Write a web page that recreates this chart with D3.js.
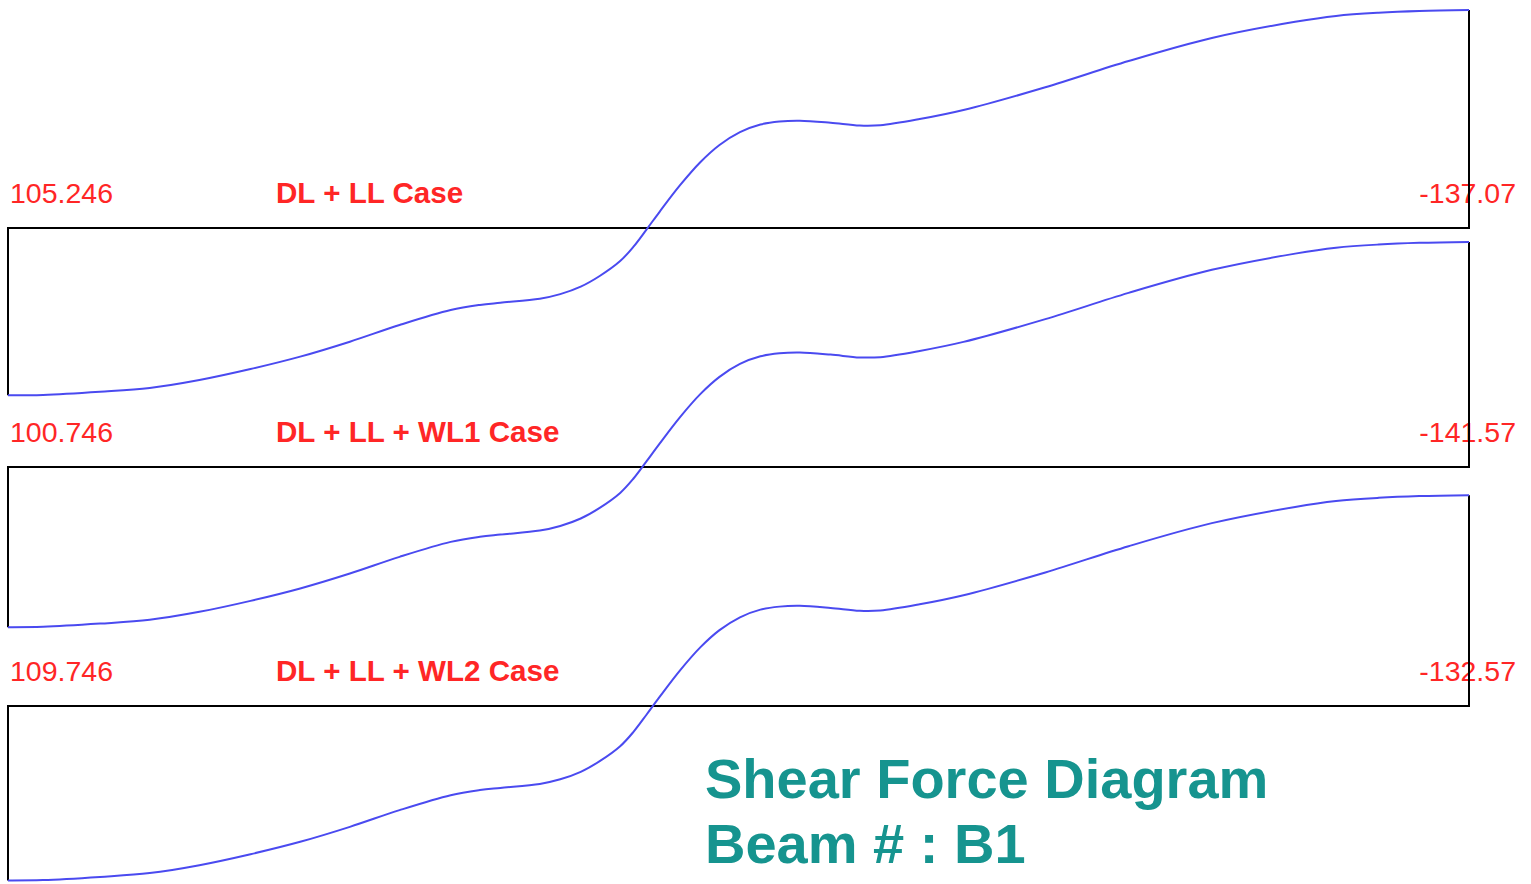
<!DOCTYPE html>
<meta charset="utf-8">
<style>
body { margin: 0; background: #fff; }
text { font-family: "Liberation Sans", Arial, sans-serif; }
.frame { fill: none; stroke: #000; stroke-width: 2px; }
.shear { fill: none; stroke: #4a4af0; stroke-width: 2px; }
.val { fill: #ff2626; font-size: 28.5px; }
.case { fill: #ff2626; font-size: 29.6px; font-weight: bold; }
.title { fill: #16948f; font-size: 56px; font-weight: bold; }
</style>
<body>
<script src="https://d3js.org/d3.v7.min.js"></script>
<script>

// stations along the beam, % of span
var stations = [0, 2.4, 6.3, 9.7, 13.1, 16.6, 20.0, 23.4, 26.8, 30.3, 32.3, 33.7, 36.4, 37.8,
  39.2, 40.5, 41.9, 42.8, 43.7, 44.6, 46.0, 47.4, 48.7, 50.1, 51.5, 52.8, 54.2, 56.3, 58.3,
  59.7, 62.4, 65.4, 71.0, 76.7, 82.4, 88.1, 90.9, 93.8, 96.6, 100];

// shear values for each load case
var shearDLLL = [105.246, 105.0, 103.0, 100.6, 95.6, 88.7, 80.9, 71.5, 61.0, 51.6, 48.4, 47.0, 44.5, 41.6,
  36.9, 30.2, 20.8, 11.9, 1.0, -10.2, -26.9, -41.5, -52.2, -60.3, -65.1, -67.0, -67.5, -66.2, -64.4,
  -64.6, -68.5, -74.2, -88.5, -105.0, -119.5, -129.7, -133.4, -135.4, -136.5, -137.07];
var shearWL1 = [100.746, 100.5, 98.5, 96.1, 91.1, 84.2, 76.4, 67.0, 56.5, 47.1, 43.9, 42.5, 40.0, 37.1,
  32.4, 25.7, 16.3, 7.4, -3.5, -14.7, -31.4, -46.0, -56.7, -64.8, -69.6, -71.5, -72.0, -70.7, -68.9,
  -69.1, -73.0, -78.7, -93.0, -109.5, -124.0, -134.2, -137.9, -139.9, -141.0, -141.57];
var shearWL2 = [109.746, 109.5, 107.5, 105.1, 100.1, 93.2, 85.4, 76.0, 65.5, 56.1, 52.9, 51.5, 49.0, 46.1,
  41.4, 34.7, 25.3, 16.4, 5.5, -5.7, -22.4, -37.0, -47.7, -55.8, -60.6, -62.5, -63.0, -61.7, -59.9,
  -60.1, -64.0, -69.7, -84.0, -100.5, -115.0, -125.2, -128.9, -130.9, -132.0, -132.57];

var caseNames = ["DL + LL Case", "DL + LL + WL1 Case", "DL + LL + WL2 Case"];
var leftLabels = ["105.246", "100.746", "109.746"];
var rightLabels = ["-137.07", "-141.57", "-132.57"];
var titleLines = ["Shear Force Diagram", "Beam # : B1"];

var series = [shearDLLL, shearWL1, shearWL2];

var W = 1531, H = 884;
var svg = d3.select("body").append("svg").attr("width", W).attr("height", H);

var x = d3.scaleLinear().domain([0, 100]).range([8, 1469]);
var baselines = [228, 467, 706];
var pxPerUnit = 1.59;

series.forEach(function(vals, i) {
  var base = baselines[i];
  var y = d3.scaleLinear().domain([0, 100]).range([base, base + 100 * pxPerUnit]);
  var g = svg.append("g");

  // labels first so the frame lines sit over them
  g.append("text").attr("class", "val").attr("x", 10).attr("y", base - 25).text(leftLabels[i]);
  g.append("text").attr("class", "case").attr("x", 276).attr("y", base - 25).text(caseNames[i]);
  g.append("text").attr("class", "val").attr("x", 1516).attr("y", base - 25)
    .attr("text-anchor", "end").text(rightLabels[i]);

  var n = vals.length - 1;
  // baseline + end verticals
  var frame = [
    [x(stations[0]), y(vals[0])], [x(stations[0]), y(0)],
    [x(stations[n]), y(0)], [x(stations[n]), y(vals[n])]
  ];
  g.append("path").attr("class", "frame").attr("d", d3.line()(frame));

  var line = d3.line()
    .x(function(d, j) { return x(stations[j]); })
    .y(function(d) { return y(d); })
    .curve(d3.curveCatmullRom.alpha(0.5));
  g.append("path").attr("class", "shear").attr("d", line(vals));
});

svg.selectAll(".title").data(titleLines).enter().append("text")
  .attr("class", "title")
  .attr("x", 705)
  .attr("y", function(d, i) { return 798 + i * 65; })
  .text(function(d) { return d; });

</script>
</body>
